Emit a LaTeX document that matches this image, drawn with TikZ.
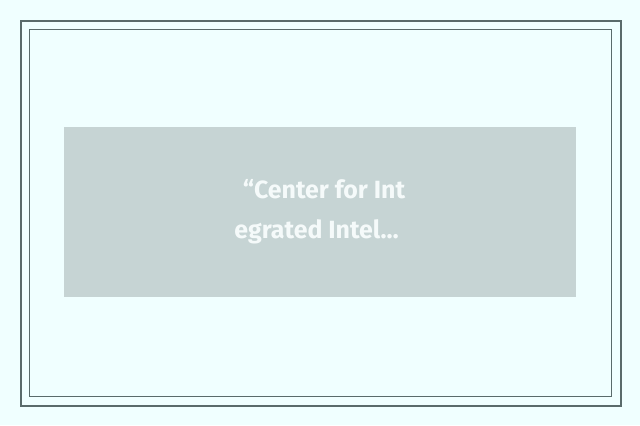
\documentclass[tikz,border=0pt]{standalone}
\usepackage{fontspec}
\setmainfont{Fira Sans}
\definecolor{bgc}{HTML}{F0FFFF}
\definecolor{frame}{HTML}{5A6B6B}
\definecolor{boxc}{HTML}{C6D4D4}
\definecolor{txt}{HTML}{F5FAFA}
\tikzset{
  lbl/.style={inner sep=0pt, text=txt, font=\fontsize{25}{28}\selectfont\bfseries, anchor=base}
}
\begin{document}
\begin{tikzpicture}[x=1bp,y=-1bp]
\fill[bgc] (0,0) rectangle (640,425);
\useasboundingbox (0,0) rectangle (640,425);
\draw[frame, line width=2bp] (21,21) rectangle (621,406);
\draw[frame, line width=1bp] (29.5,29.5) rectangle (611.5,396.5);
\fill[boxc] (64,127) rectangle (576,297);
\node[lbl] (l1) at (324,198) {“Center for Int};
\node[lbl] (l2) at (316.5,238) {egrated Intel…};
\end{tikzpicture}
\end{document}
